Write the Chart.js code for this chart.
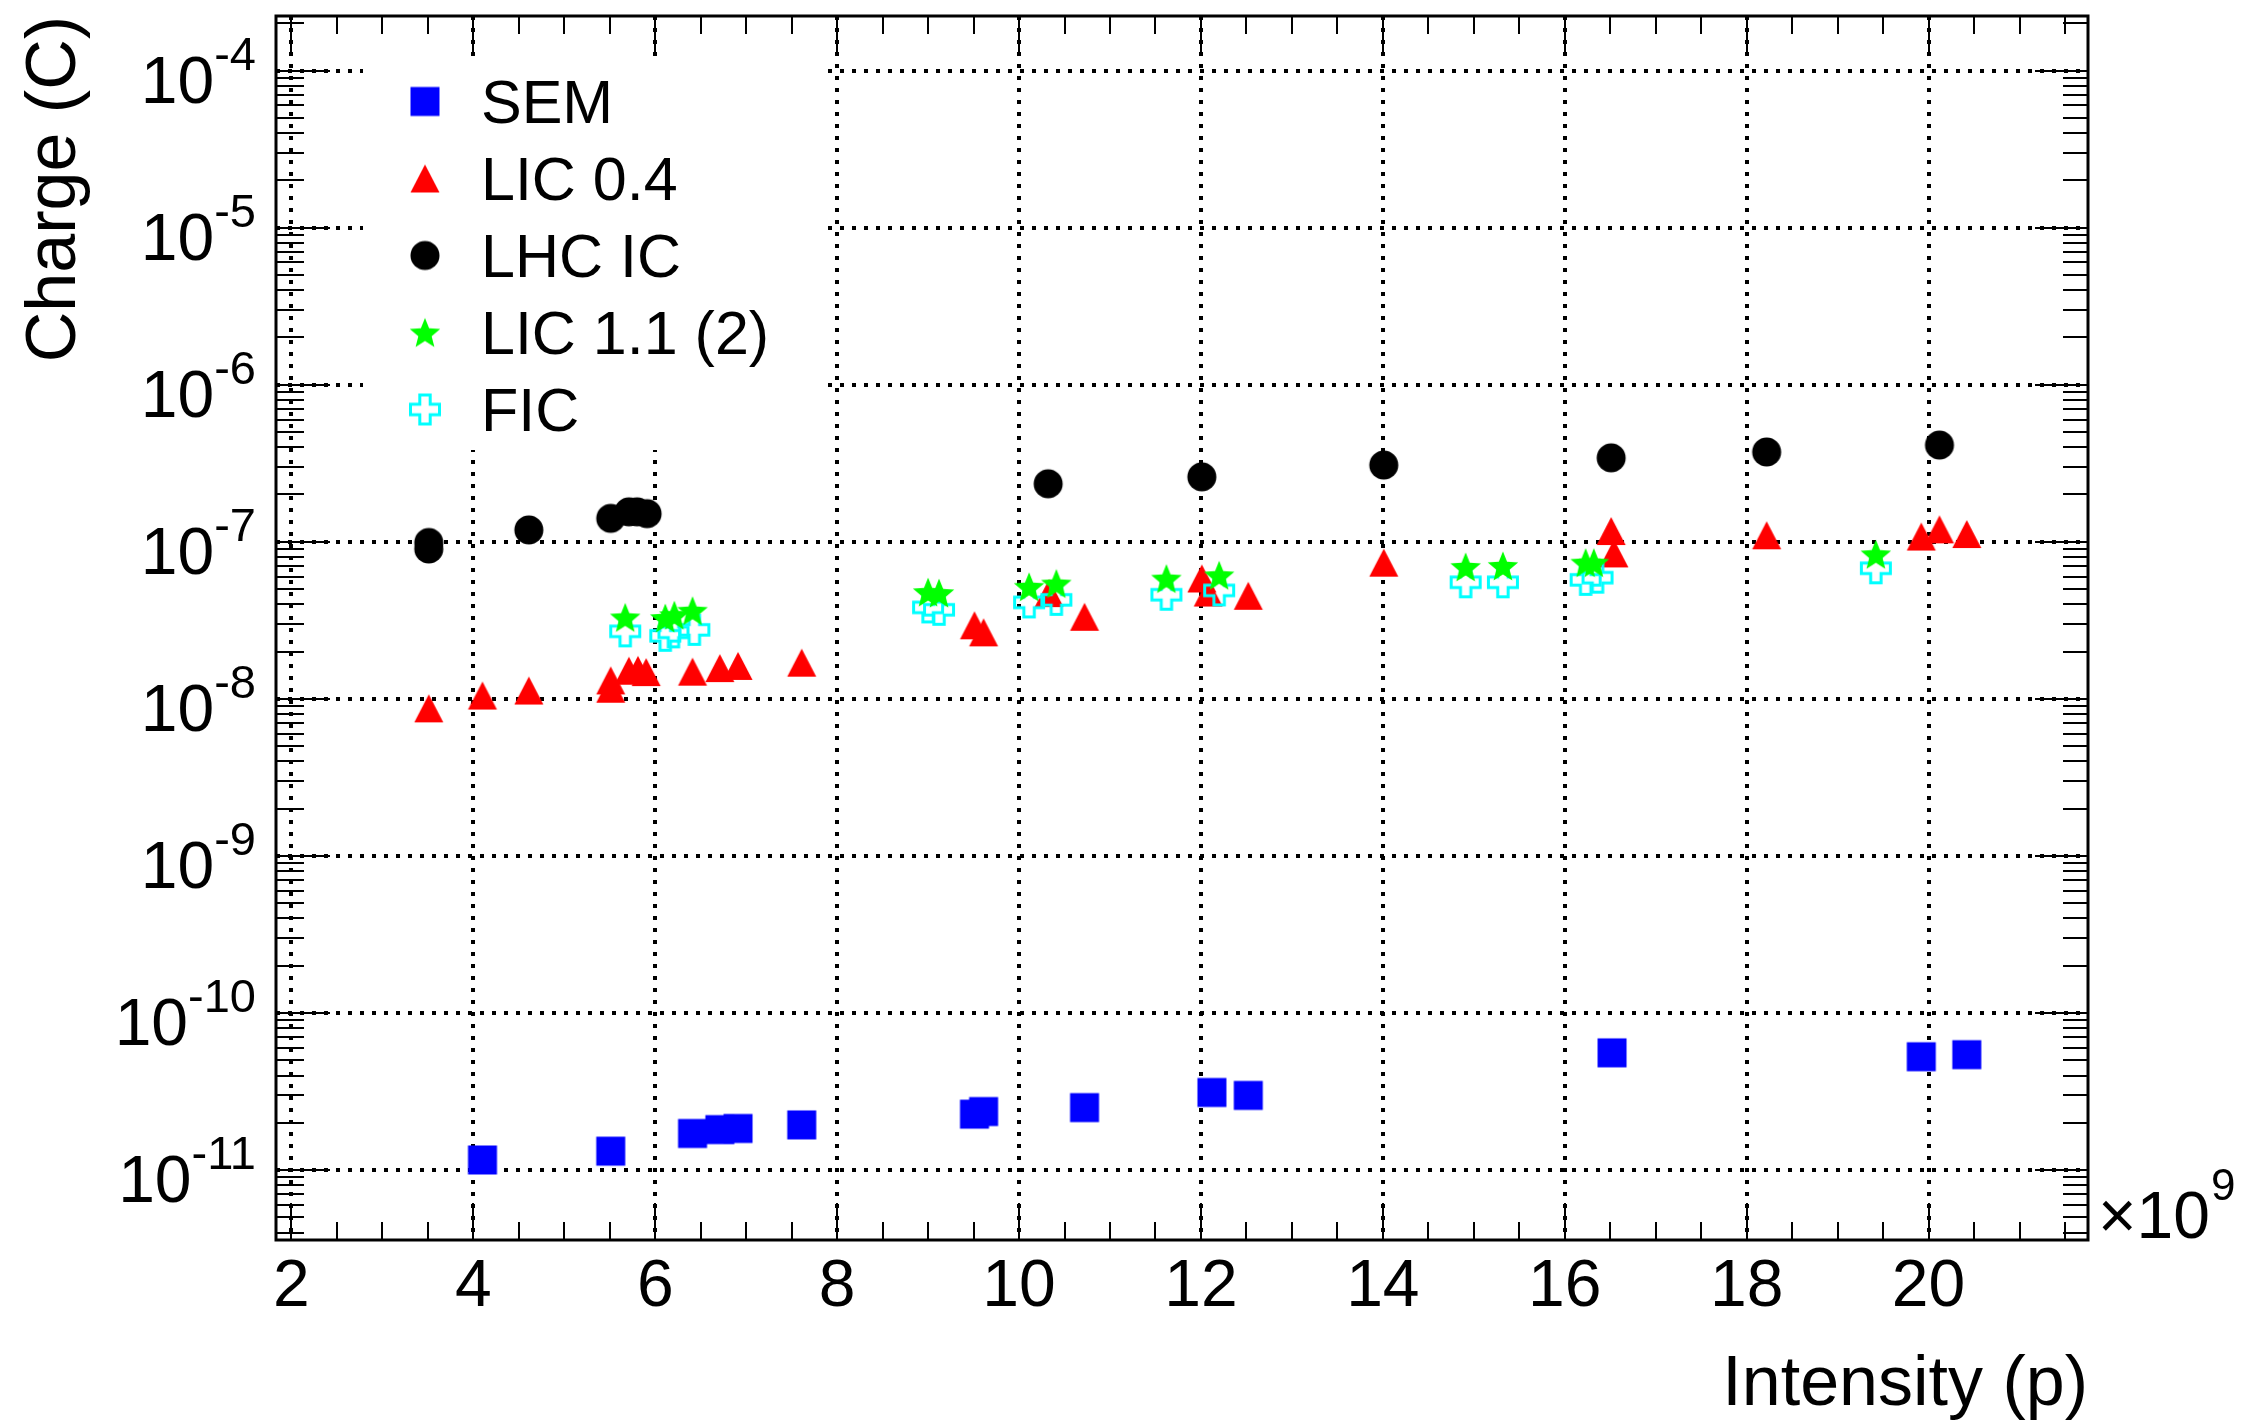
<!DOCTYPE html>
<html>
<head>
<meta charset="utf-8">
<title>Charge vs Intensity</title>
<script src="https://cdn.jsdelivr.net/npm/chart.js@4.4.1/dist/chart.umd.min.js"></script>
<style>
  html, body { margin: 0; padding: 0; background: #fff; }
  #wrap { width: 2259px; height: 1424px; }
</style>
</head>
<body>
<div id="wrap"><canvas id="chart" width="2259" height="1424"></canvas></div>
<script>
// values: intensity in 1e9 protons, charge in C
const semX = [4.10, 5.51, 6.41, 6.71, 6.91, 7.61, 9.51, 9.61, 10.72, 12.12, 12.52, 16.52, 19.92, 20.42];
const semY = [1.16e-11, 1.32e-11, 1.71e-11, 1.81e-11, 1.84e-11, 1.94e-11, 2.27e-11, 2.36e-11, 2.50e-11, 3.12e-11, 2.99e-11, 5.58e-11, 5.27e-11, 5.43e-11];

const lic04X = [3.51, 4.10, 4.61, 5.51, 5.51, 5.71, 5.81, 5.90, 6.41, 6.71, 6.91, 7.61, 9.51, 9.61, 10.33, 10.72, 12.01, 12.08, 12.52, 14.01, 16.51, 16.54, 18.22, 19.92, 20.12, 20.42];
const lic04Y = [8.7e-9, 1.05e-8, 1.13e-8, 1.31e-8, 1.16e-8, 1.51e-8, 1.53e-8, 1.48e-8, 1.49e-8, 1.57e-8, 1.62e-8, 1.70e-8, 2.94e-8, 2.65e-8, 4.71e-8, 3.33e-8, 5.84e-8, 4.75e-8, 4.53e-8, 7.36e-8, 1.17e-7, 8.43e-8, 1.10e-7, 1.08e-7, 1.20e-7, 1.12e-7];

const lhcX = [3.51, 3.51, 4.61, 5.51, 5.71, 5.80, 5.91, 10.32, 12.01, 14.01, 16.51, 18.22, 20.12];
const lhcY = [9.9e-8, 9.0e-8, 1.19e-7, 1.41e-7, 1.55e-7, 1.55e-7, 1.51e-7, 2.34e-7, 2.59e-7, 3.08e-7, 3.42e-7, 3.73e-7, 4.13e-7];

const lic11X = [5.67, 6.11, 6.21, 6.41, 9.00, 9.12, 10.11, 10.41, 11.62, 12.20, 14.91, 15.32, 16.23, 16.32, 19.42];
const lic11Y = [3.30e-8, 3.27e-8, 3.41e-8, 3.64e-8, 4.78e-8, 4.71e-8, 5.17e-8, 5.42e-8, 5.83e-8, 6.12e-8, 6.92e-8, 7.02e-8, 7.36e-8, 7.36e-8, 8.32e-8];

const ficX = [5.67, 6.11, 6.20, 6.43, 9.00, 9.12, 10.11, 10.41, 11.62, 12.20, 14.91, 15.32, 16.23, 16.36, 19.42];
const ficY = [2.69e-8, 2.52e-8, 2.65e-8, 2.75e-8, 3.82e-8, 3.69e-8, 4.11e-8, 4.27e-8, 4.60e-8, 4.90e-8, 5.52e-8, 5.52e-8, 5.72e-8, 5.91e-8, 6.78e-8];

const xTickValues = [2, 4, 6, 8, 10, 12, 14, 16, 18, 20];
const yTickPowers = [-11, -10, -9, -8, -7, -6, -5, -4];
const xRange = [1.83, 21.753];
const yRange = [Math.pow(10, -11.445), Math.pow(10, -3.653)];

const FONT = '"Liberation Sans", Arial, Helvetica, sans-serif';

function pts(xs, ys) {
    return xs.map((x, i) => ({ x: x, y: ys[i] }));
}

// ROOT-like markers as small canvases
function makeMarker(kind, color) {
    const c = document.createElement('canvas');
    c.width = 36; c.height = 36;
    const g = c.getContext('2d');
    const m = 18;
    g.fillStyle = color;
    g.strokeStyle = color;
    g.beginPath();
    if (kind === 'square') {
        g.rect(m - 14.5, m - 14.5, 29, 29);
        g.fill();
    } else if (kind === 'circle') {
        g.arc(m, m, 14.5, 0, Math.PI * 2);
        g.fill();
    } else if (kind === 'triangle') {
        g.moveTo(m - 14.5, m + 14);
        g.lineTo(m + 14.5, m + 14);
        g.lineTo(m, m - 14);
        g.closePath();
        g.fill();
    } else if (kind === 'star') {
        const R = 16, r = 7;
        for (let i = 0; i < 10; i++) {
            const a = -Math.PI / 2 + i * Math.PI / 5;
            const rr = i % 2 === 0 ? R : r;
            const px = m + rr * Math.cos(a), py = m + 1.5 + rr * Math.sin(a);
            if (i === 0) g.moveTo(px, py); else g.lineTo(px, py);
        }
        g.closePath();
        g.fill();
    } else if (kind === 'cross') {
        const A = 14.5, b = 5.2;
        const p = [[-b,-A],[b,-A],[b,-b],[A,-b],[A,b],[b,b],[b,A],[-b,A],[-b,b],[-A,b],[-A,-b],[-b,-b]];
        p.forEach((q, i) => i ? g.lineTo(m + q[0], m + q[1]) : g.moveTo(m + q[0], m + q[1]));
        g.closePath();
        g.lineWidth = 3;
        g.stroke();
    }
    return c;
}

const series = [
    { label: 'SEM', xs: semX, ys: semY, marker: makeMarker('square', '#0000ff'), order: 5 },
    { label: 'LIC 0.4', xs: lic04X, ys: lic04Y, marker: makeMarker('triangle', '#ff0000'), order: 4 },
    { label: 'LHC IC', xs: lhcX, ys: lhcY, marker: makeMarker('circle', '#000000'), order: 3 },
    { label: 'LIC 1.1 (2)', xs: lic11X, ys: lic11Y, marker: makeMarker('star', '#00ff00'), order: 1 },
    { label: 'FIC', xs: ficX, ys: ficY, marker: makeMarker('cross', '#00ffff'), order: 2 }
];

// legend box, frame, ticks, y labels with exponents
const rootDecor = {
    id: 'rootDecor',
    beforeDatasetsDraw(chart) {
        const ctx = chart.ctx;
        ctx.save();
        ctx.fillStyle = '#fff';
        ctx.fillRect(363, 62, 464, 388);
        ctx.restore();
    },
    afterDatasetsDraw(chart) {
        const { ctx, chartArea: a, scales } = chart;
        const x = scales.x, y = scales.y;
        ctx.save();
        ctx.strokeStyle = '#000';
        ctx.lineWidth = 2;
        ctx.beginPath();
        for (let v = Math.ceil(x.min * 2) / 2; v <= x.max + 1e-9; v += 0.5) {
            const px = Math.round(x.getPixelForValue(v));
            const major = Math.abs(v / 2 - Math.round(v / 2)) < 1e-9;
            ctx.moveTo(px, a.bottom); ctx.lineTo(px, a.bottom - (major ? 37 : 18));
            ctx.moveTo(px, a.top); ctx.lineTo(px, a.top + (major ? 40 : 18));
        }
        for (let e = -12; e <= -4; e++) {
            for (let k = 1; k <= 9; k++) {
                const val = k * Math.pow(10, e);
                if (val < y.min || val > y.max) continue;
                const py = Math.round(y.getPixelForValue(val));
                const major = k === 1;
                ctx.moveTo(a.left, py); ctx.lineTo(a.left + (major ? 54 : 28), py);
                ctx.moveTo(a.right, py); ctx.lineTo(a.right - (major ? 53 : 25), py);
            }
        }
        ctx.stroke();
        ctx.lineWidth = 3;
        ctx.strokeRect(a.left, a.top, a.right - a.left, a.bottom - a.top);

        // y tick labels 10^n
        ctx.fillStyle = '#000';
        ctx.textAlign = 'right';
        ctx.textBaseline = 'alphabetic';
        yTickPowers.forEach(p => {
            const py = y.getPixelForValue(Math.pow(10, p));
            const ex = String(p);
            ctx.font = '47px ' + FONT;
            const w = ctx.measureText(ex).width;
            ctx.fillText(ex, 256, py - 1);
            ctx.font = '66px ' + FONT;
            ctx.fillText('10', 256 - w, py + 32);
        });

        // x axis multiplier
        ctx.textAlign = 'left';
        ctx.font = '66px ' + FONT;
        const base = '\u00d710';
        ctx.fillText(base, 2098, 1238);
        const bw = ctx.measureText(base).width;
        ctx.font = '44px ' + FONT;
        ctx.fillText('9', 2098 + bw + 1, 1200);

        // legend
        chart.data.datasets.forEach((ds, i) => {
            const ly = 101.5 + 77 * i;
            const mk = ds.pointStyle;
            ctx.drawImage(mk, 425 - mk.width / 2, ly - mk.height / 2);
            ctx.font = '61px ' + FONT;
            ctx.fillStyle = '#000';
            ctx.fillText(ds.label, 481, ly + 21.5);
        });
        ctx.restore();
    }
};

new Chart(document.getElementById('chart'), {
    type: 'scatter',
    data: {
        datasets: series.map(s => ({
            label: s.label,
            data: pts(s.xs, s.ys),
            pointStyle: s.marker,
            pointRadius: 15,
            pointHoverRadius: 15,
            order: s.order
        }))
    },
    options: {
        responsive: false,
        animation: false,
        devicePixelRatio: 1,
        layout: { padding: { left: 0, top: 12, right: 171, bottom: 0 } },
        plugins: {
            legend: { display: false },
            tooltip: { enabled: false }
        },
        scales: {
            x: {
                type: 'linear',
                min: xRange[0],
                max: xRange[1],
                afterBuildTicks: s => { s.ticks = xTickValues.map(v => ({ value: v })); },
                afterFit: s => { s.height = 184; },
                ticks: {
                    color: '#000',
                    padding: 8,
                    maxRotation: 0,
                    font: { family: FONT, size: 66 }
                },
                grid: { color: '#000', lineWidth: 4, drawTicks: false },
                border: { display: false, dash: [4, 8] },
                title: {
                    display: true,
                    text: 'Intensity (p)',
                    align: 'end',
                    color: '#000',
                    font: { family: FONT, size: 70, lineHeight: 1 },
                    padding: { top: 0, bottom: 3 }
                }
            },
            y: {
                type: 'logarithmic',
                min: yRange[0],
                max: yRange[1],
                afterBuildTicks: s => { s.ticks = yTickPowers.map(p => ({ value: Math.pow(10, p) })); },
                afterFit: s => { s.width = 276; },
                ticks: { display: false },
                grid: { color: '#000', lineWidth: 4, drawTicks: false },
                border: { display: false, dash: [4, 8] },
                title: {
                    display: true,
                    text: 'Charge (C)',
                    align: 'end',
                    color: '#000',
                    font: { family: FONT, size: 70, lineHeight: 1 },
                    padding: { top: 21, bottom: 0 }
                }
            }
        }
    },
    plugins: [rootDecor]
});
</script>
</body>
</html>
